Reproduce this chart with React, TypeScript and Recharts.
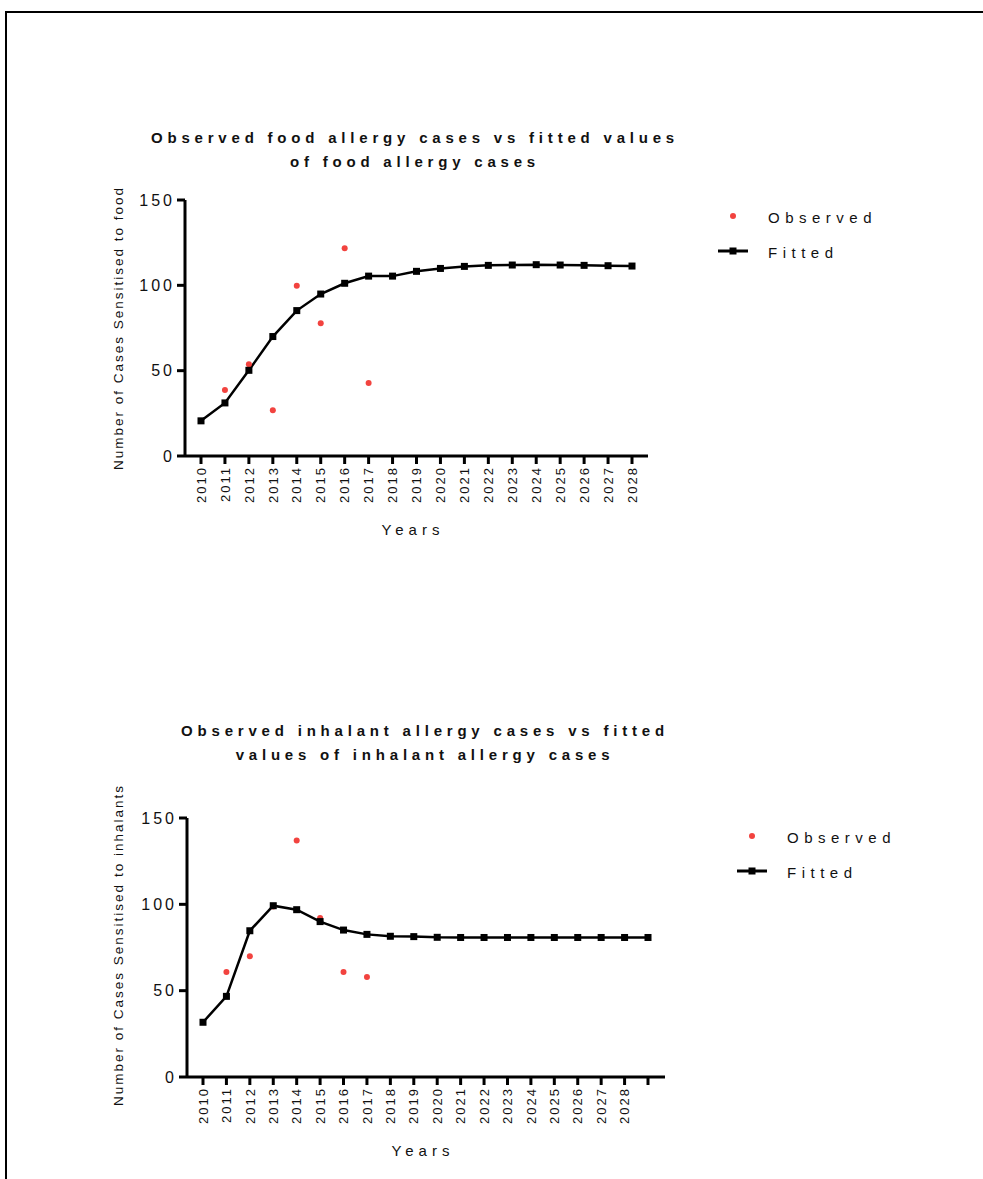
import React from 'react';
import { ComposedChart, Line, XAxis, YAxis } from 'recharts';

// food allergy chart
const foodYears = ['2010', '2011', '2012', '2013', '2014', '2015', '2016', '2017', '2018', '2019',
  '2020', '2021', '2022', '2023', '2024', '2025', '2026', '2027', '2028'];
const foodObserved = [null, 38.7, 53.7, 26.8, 99.8, 77.8, 121.8, 42.8, null, null,
  null, null, null, null, null, null, null, null, null];
const foodFitted = [20.6, 31.1, 50.2, 70.0, 85.2, 94.9, 101.2, 105.4, 105.4, 108.2,
  109.9, 111.1, 111.7, 111.9, 112.1, 111.9, 111.7, 111.5, 111.3];

// inhalant allergy chart (last category has no label)
const inhalantYears = ['2010', '2011', '2012', '2013', '2014', '2015', '2016', '2017', '2018', '2019',
  '2020', '2021', '2022', '2023', '2024', '2025', '2026', '2027', '2028', '2029'];
const inhalantTickLabels = ['2010', '2011', '2012', '2013', '2014', '2015', '2016', '2017', '2018', '2019',
  '2020', '2021', '2022', '2023', '2024', '2025', '2026', '2027', '2028', ''];
const inhalantObserved = [null, 60.8, 69.9, 98.8, 136.9, 92.1, 60.8, 57.9, null, null,
  null, null, null, null, null, null, null, null, null, null];
const inhalantFitted = [31.7, 46.7, 84.7, 99.2, 96.9, 90.0, 85.1, 82.6, 81.5, 81.3,
  80.9, 80.8, 80.8, 80.8, 80.8, 80.8, 80.8, 80.8, 80.8, 80.8];

const yTicks = [0, 50, 100, 150];

const FONT = '"Liberation Sans", Arial, sans-serif';
const RED = '#f2433f';
const INK = '#111';

function SquareDot(props: any) {
  const { cx, cy } = props;
  if (cx == null || cy == null) return null;
  return <rect x={cx - 3.5} y={cy - 3.5} width={7} height={7} fill="#000" />;
}

function makeTick(labels: string[]) {
  return function YearTick(props: any) {
    const { x, y, index } = props;
    return (
      <g transform={`translate(${x},${y})`}>
        <text
          transform="rotate(-90)"
          textAnchor="end"
          dy="0.36em"
          fill={INK}
          fontSize={13}
          fontFamily={FONT}
          letterSpacing={2}
        >
          {labels[index]}
        </text>
      </g>
    );
  };
}

interface ChartProps {
  years: string[];
  tickLabels: string[];
  observed: (number | null)[];
  fitted: number[];
  top: number;
  width: number;
  height: number;
  margin: { top: number; right: number; bottom: number; left: number };
  padding: { left: number; right: number };
}

function AllergyChart({ years, tickLabels, observed, fitted, top, width, height, margin, padding }: ChartProps) {
  const data = years.map((year, i) => ({ year, observed: observed[i], fitted: fitted[i] }));
  return (
    <div style={{ position: 'absolute', left: 0, top }}>
      <ComposedChart width={width} height={height} data={data} margin={margin}>
        <XAxis
          dataKey="year"
          padding={padding}
          height={90}
          interval={0}
          axisLine={{ stroke: '#000', strokeWidth: 3 }}
          tickLine={{ stroke: '#000', strokeWidth: 3 }}
          tickSize={8}
          tick={makeTick(tickLabels)}
        />
        <YAxis
          width={60}
          domain={[0, 150]}
          ticks={yTicks}
          interval={0}
          axisLine={{ stroke: '#000', strokeWidth: 3 }}
          tickLine={{ stroke: '#000', strokeWidth: 3 }}
          tickSize={8}
          tick={{ fill: INK, fontSize: 16, fontFamily: FONT, letterSpacing: 3 }}
        />
        <Line
          dataKey="observed"
          stroke="none"
          dot={{ r: 3, fill: RED, stroke: 'none' }}
          activeDot={false}
          isAnimationActive={false}
        />
        <Line
          dataKey="fitted"
          stroke="#000"
          strokeWidth={2.5}
          dot={<SquareDot />}
          activeDot={false}
          isAnimationActive={false}
        />
      </ComposedChart>
    </div>
  );
}

const textBase: React.CSSProperties = {
  position: 'absolute',
  fontFamily: FONT,
  color: INK,
  whiteSpace: 'nowrap',
};

function Title({ lines, cx, cy }: { lines: string[]; cx: number; cy: number }) {
  return (
    <div style={{
      ...textBase,
      left: cx,
      top: cy,
      transform: 'translate(-50%, -50%)',
      textAlign: 'center',
      fontWeight: 'bold',
      fontSize: 15,
      letterSpacing: 4.8,
      lineHeight: '24px',
    }}>
      {lines.map((l) => <div key={l}>{l}</div>)}
    </div>
  );
}

function YLabel({ text, cx, cy }: { text: string; cx: number; cy: number }) {
  return (
    <div style={{
      ...textBase,
      left: cx,
      top: cy,
      fontSize: 13.5,
      letterSpacing: 2,
      transform: 'translate(-50%, -50%) rotate(-90deg)',
    }}>
      {text}
    </div>
  );
}

function XLabel({ cx, cy }: { cx: number; cy: number }) {
  return (
    <div style={{
      ...textBase,
      left: cx,
      top: cy,
      fontSize: 15,
      letterSpacing: 5,
      transform: 'translate(-50%, -50%)',
    }}>
      Years
    </div>
  );
}

function ChartLegend({ x, y }: { x: number; y: number }) {
  const label: React.CSSProperties = {
    ...textBase,
    left: 50,
    fontSize: 15,
    letterSpacing: 5.5,
    transform: 'translateY(-50%)',
  };
  return (
    <div style={{ position: 'absolute', left: x, top: y }}>
      <svg width={40} height={50} style={{ position: 'absolute', left: 0, top: -10 }}>
        <circle cx={15} cy={10} r={3} fill={RED} />
        <line x1={0} y1={45} x2={30} y2={45} stroke="#000" strokeWidth={3} />
        <rect x={11.5} y={41.5} width={7} height={7} fill="#000" />
      </svg>
      <div style={{ ...label, top: 1 }}>Observed</div>
      <div style={{ ...label, top: 36 }}>Fitted</div>
    </div>
  );
}

export default function App() {
  return (
    <div style={{ position: 'absolute', left: 0, top: 0, width: 983, height: 1179, overflow: 'hidden', background: '#fff' }}>
      <div style={{
        position: 'absolute',
        left: 5,
        top: 11,
        width: 1000,
        height: 1200,
        borderTop: '2.5px solid #000',
        borderLeft: '2.5px solid #000',
      }} />

      <Title lines={['Observed food allergy cases vs fitted values', 'of food allergy cases']} cx={415} cy={150} />
      <AllergyChart
        years={foodYears}
        tickLabels={foodYears}
        observed={foodObserved}
        fitted={foodFitted}
        top={0}
        width={700}
        height={560}
        margin={{ top: 200, right: 52, bottom: 14, left: 125 }}
        padding={{ left: 16, right: 16 }}
      />
      <YLabel text="Number of Cases Sensitised to food" cx={118} cy={328} />
      <XLabel cx={413} cy={529} />
      <ChartLegend x={718} y={216} />

      <Title lines={['Observed inhalant allergy cases vs fitted', 'values of inhalant allergy cases']} cx={425} cy={743} />
      <AllergyChart
        years={inhalantYears}
        tickLabels={inhalantTickLabels}
        observed={inhalantObserved}
        fitted={inhalantFitted}
        top={600}
        width={720}
        height={579}
        margin={{ top: 218, right: 55, bottom: 12, left: 127 }}
        padding={{ left: 16, right: 17 }}
      />
      <YLabel text="Number of Cases Sensitised to inhalants" cx={118} cy={945} />
      <XLabel cx={423} cy={1150} />
      <ChartLegend x={737} y={836} />
    </div>
  );
}
